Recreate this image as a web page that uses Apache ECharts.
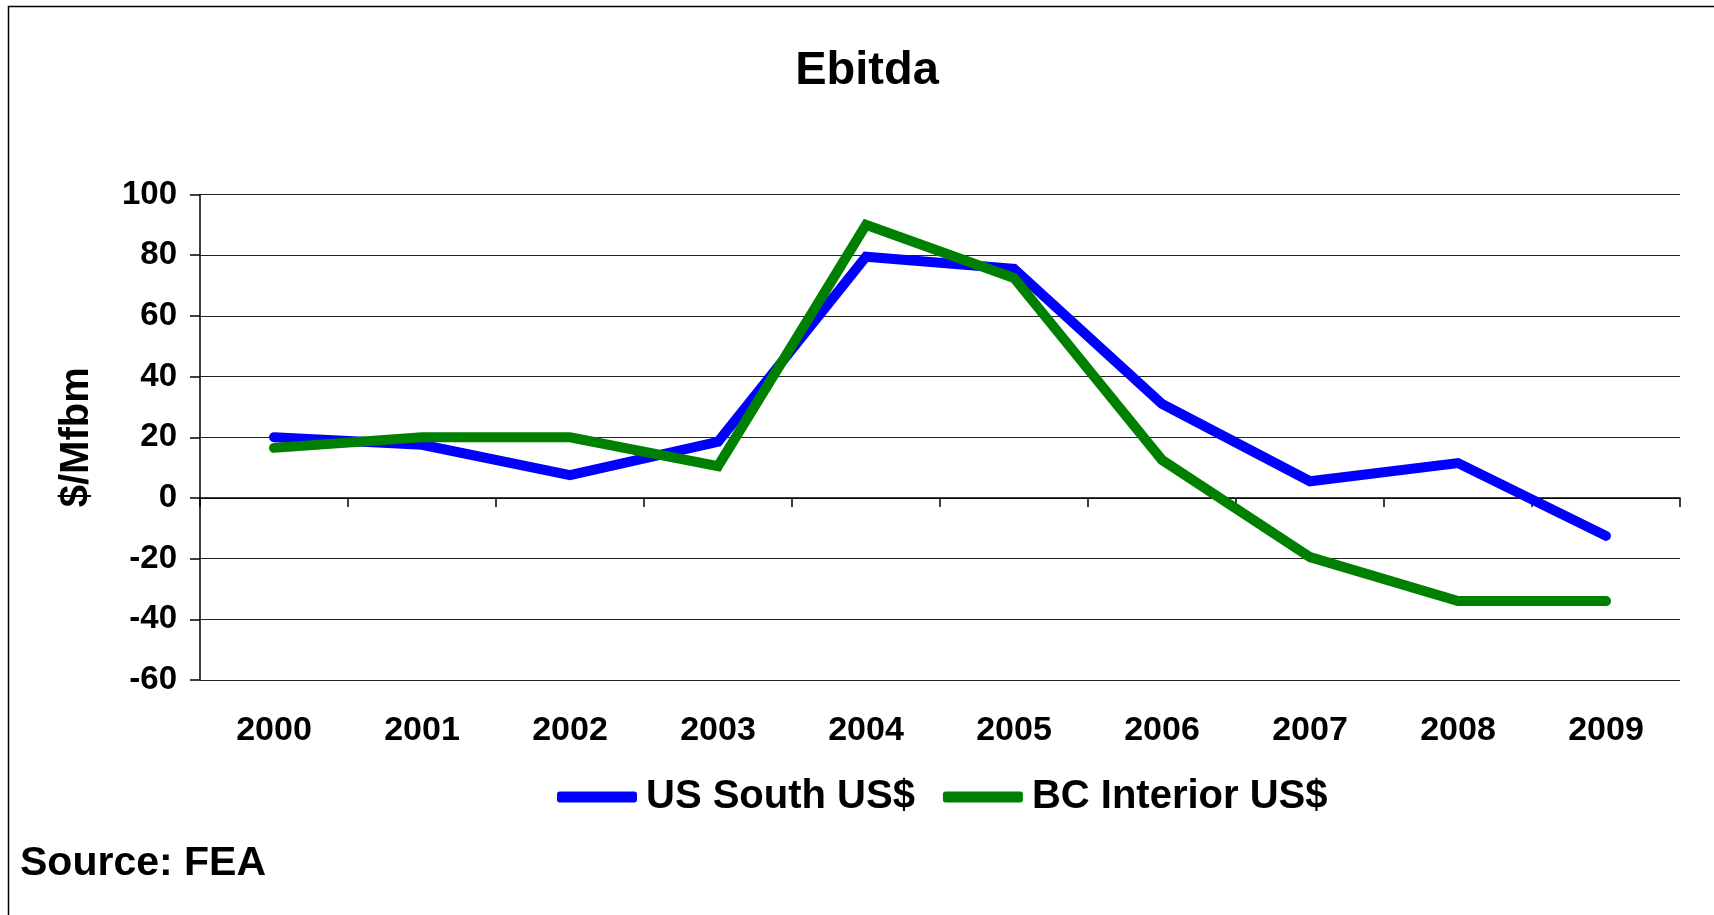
<!DOCTYPE html>
<html>
<head>
<meta charset="utf-8">
<title>Ebitda</title>
<script src="https://cdn.jsdelivr.net/npm/echarts@6/dist/echarts.min.js"></script>
<style>
  html, body { margin: 0; padding: 0; background: #ffffff; }
  #chart { width: 1714px; height: 915px; }
</style>
</head>
<body>
<div id="chart"></div>
<script>
// Years on the category axis
const years = ['2000', '2001', '2002', '2003', '2004', '2005', '2006', '2007', '2008', '2009'];

// EBITDA in $/Mfbm
const usSouth = [20, 17.5, 7.5, 18.5, 79.5, 75.5, 31, 5.5, 11.5, -12.5];
const bcInterior = [16.5, 20, 20, 10.5, 90, 72.5, 12.5, -19.5, -34, -34];

// Value axis range
const yMin = -60;
const yMax = 100;
const yStep = 20;

const seriesNames = ['US South US$', 'BC Interior US$'];
const seriesColors = ['#0000ff', '#008000'];

const FONT = '"Liberation Sans", Arial, sans-serif';

const chart = echarts.init(document.getElementById('chart'), null, { renderer: 'canvas' });

chart.setOption({
  backgroundColor: '#ffffff',
  animation: false,
  title: {
    text: 'Ebitda',
    left: 862,
    top: 43,
    textAlign: 'center',
    textStyle: { fontFamily: FONT, fontSize: 47, fontWeight: 'bold', color: '#000' }
  },
  legend: {
    data: seriesNames.map(n => ({ name: n, icon: 'roundRect' })),
    left: 557,
    top: 777,
    padding: 0,
    itemWidth: 80,
    itemHeight: 11,
    itemGap: 28,
    textStyle: { fontFamily: FONT, fontSize: 40, fontWeight: 'bold', color: '#000', padding: [0, 0, 0, 4] }
  },
  grid: { left: 200, right: 34, top: 194.5, bottom: 235, containLabel: false },
  xAxis: [
    {
      // axis line on zero with boundary ticks
      type: 'category',
      data: years,
      position: 'bottom',
      boundaryGap: true,
      axisLine: { onZero: true, lineStyle: { color: '#000', width: 1.5 } },
      axisTick: { show: true, length: 9, lineStyle: { color: '#000', width: 1.5 } },
      axisLabel: { show: false },
      splitLine: { show: false }
    },
    {
      // year labels along the bottom of the plot
      type: 'category',
      data: years,
      position: 'bottom',
      boundaryGap: true,
      axisLine: { show: false, onZero: false },
      axisTick: { show: false },
      axisLabel: { show: true, margin: 34, fontFamily: FONT, fontSize: 34, fontWeight: 'bold', color: '#000' },
      splitLine: { show: false }
    }
  ],
  yAxis: {
    type: 'value',
    min: yMin,
    max: yMax,
    interval: yStep,
    name: '$/Mfbm',
    nameLocation: 'middle',
    nameRotate: 90,
    nameGap: 103,
    nameTextStyle: { fontFamily: FONT, fontSize: 40, fontWeight: 'bold', color: '#000' },
    axisLine: { show: true, lineStyle: { color: '#000', width: 1.5 } },
    axisTick: { show: true, length: 10, lineStyle: { color: '#000', width: 1.5 } },
    axisLabel: { margin: 23, fontFamily: FONT, fontSize: 33, fontWeight: 'bold', color: '#000' },
    splitLine: { show: true, lineStyle: { color: '#222', width: 1.2 } }
  },
  series: [
    {
      name: seriesNames[0],
      type: 'line',
      data: usSouth,
      xAxisIndex: 0,
      symbol: 'none',
      color: seriesColors[0],
      lineStyle: { color: seriesColors[0], width: 10, cap: 'round', join: 'miter' }
    },
    {
      name: seriesNames[1],
      type: 'line',
      data: bcInterior,
      xAxisIndex: 0,
      symbol: 'none',
      color: seriesColors[1],
      lineStyle: { color: seriesColors[1], width: 10, cap: 'round', join: 'miter' }
    }
  ],
  graphic: [
    {
      // chart frame
      type: 'rect',
      silent: true,
      shape: { x: 8.5, y: 6.5, width: 1800, height: 1000 },
      style: { fill: 'none', stroke: '#000', lineWidth: 1.5 }
    },
    {
      type: 'text',
      left: 20,
      top: 843,
      style: { text: 'Source: FEA', fontFamily: FONT, fontSize: 41, fontWeight: 'bold', fill: '#000' }
    }
  ]
});
</script>
</body>
</html>
